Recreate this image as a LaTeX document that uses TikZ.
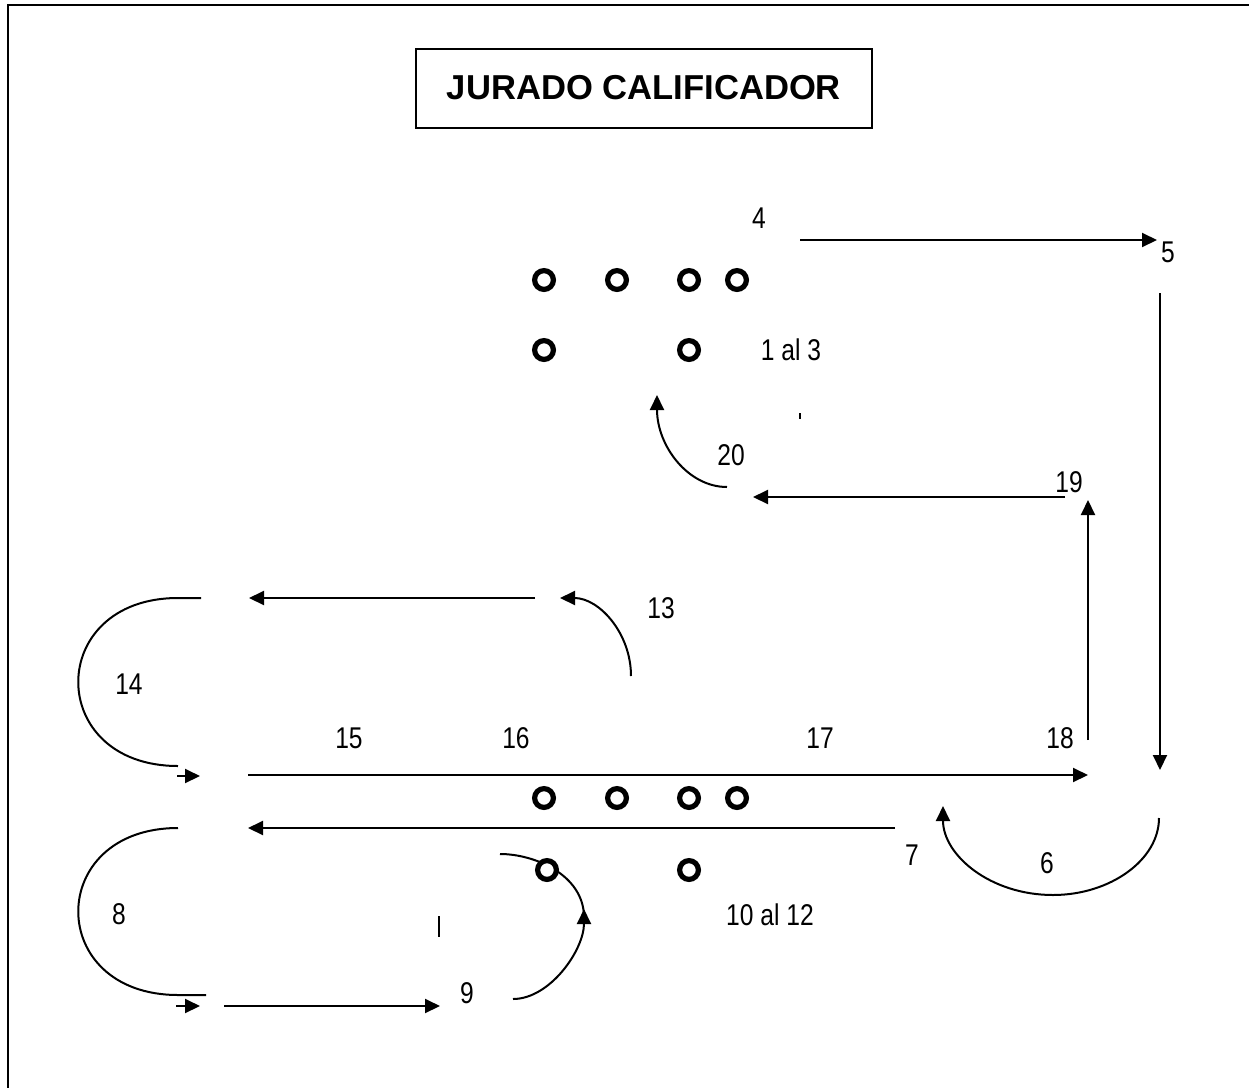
\documentclass[tikz,border=0pt]{standalone}
\usepackage{fontspec}
\setmainfont{Liberation Sans}
\newfontfamily\narrowfont[FakeStretch=0.82]{Liberation Sans}
\usetikzlibrary{arrows.meta}
\begin{document}
\begin{tikzpicture}[x=0.5pt,y=-0.5pt,
  lab/.style={font=\narrowfont\fontsize{15}{18}\selectfont, inner sep=0},
  dot/.style={circle,draw,line width=2.6pt,fill=white,minimum size=9.4pt,inner sep=0},
  arr/.style={line width=1pt,-{Triangle[length=7.5pt,width=7pt]}},
  ln/.style={line width=1pt},
  thin ln/.style={line width=0.6pt}]
\useasboundingbox (0,0) rectangle (1249,1088);
% frame
\draw[line width=1.2pt] (8,1088) -- (8,5) -- (1249,5);
% title
\node[draw, line width=1pt, minimum width=228pt, minimum height=39.5pt, inner sep=0,
      font=\bfseries\fontsize{17.3}{20}\selectfont] (title) at (644,88) {JURADO CALIFICADOR};
% endpoints
\coordinate (a4s) at (800,240);  \coordinate (a4e) at (1157,240);
\coordinate (a5s) at (1160,293); \coordinate (a5e) at (1160,770);
\coordinate (a6s) at (1159,818); \coordinate (a6e) at (943,806);
\coordinate (a7s) at (895,828);  \coordinate (a7e) at (248,828);
\coordinate (a8s) at (178,828);  \coordinate (a8b) at (178,995); \coordinate (a8e) at (206,995);
\coordinate (a8as) at (176,1006); \coordinate (a8ae) at (200,1006);
\coordinate (a9ls) at (224,1006); \coordinate (a9le) at (440,1006);
\coordinate (a9s) at (513,999);  \coordinate (a9e) at (584,909);
\coordinate (a9u) at (584,916);  \coordinate (a9t) at (500,854);
\coordinate (t1s) at (439,916);  \coordinate (t1e) at (439,937);
\coordinate (a13s) at (631,676); \coordinate (a13e) at (560,598);
\coordinate (l13s) at (535,598); \coordinate (l13e) at (249,598);
\coordinate (a14s) at (201,598); \coordinate (a14t) at (178,598); \coordinate (a14e) at (178,766);
\coordinate (a14as) at (177,776); \coordinate (a14ae) at (200,776);
\coordinate (l15s) at (248,775); \coordinate (l15e) at (1088,775);
\coordinate (a18s) at (1088,740); \coordinate (a18e) at (1088,500);
\coordinate (a19s) at (1065,497); \coordinate (a19e) at (753,497);
\coordinate (a20s) at (727,487); \coordinate (a20e) at (657,395);
\coordinate (d1s) at (800,413);  \coordinate (d1e) at (800,419);
% connectors
\draw[arr] (a4s) -- (a4e);
\draw[arr] (a5s) -- (a5e);
\draw[arr] (a6s) .. controls (1159,860) and (1110,895) .. (1053,895)
                 .. controls (990,895) and (943,855) .. (a6e);
\draw[arr] (a7s) -- (a7e);
\draw[ln] (a8s) .. controls (45,828) and (45,995) .. (a8b) -- (a8e);
\draw[arr] (a8as) -- (a8ae);
\draw[arr] (a9ls) -- (a9le);
\draw[arr] (a9s) .. controls (550,999) and (584,950) .. (a9e);
\draw[ln] (a9u) .. controls (583,875) and (535,854) .. (a9t);
\draw[thin ln] (t1s) -- (t1e);
\draw[arr] (a13s) .. controls (631,633) and (599,598) .. (a13e);
\draw[arr] (l13s) -- (l13e);
\draw[ln] (a14s) -- (a14t) .. controls (45,598) and (45,766) .. (a14e);
\draw[arr] (a14as) -- (a14ae);
\draw[arr] (l15s) -- (l15e);
\draw[arr] (a18s) -- (a18e);
\draw[arr] (a19s) -- (a19e);
\draw[arr] (a20s) .. controls (688,487) and (657,446) .. (a20e);
\draw[ln] (d1s) -- (d1e);
% players (circles)
\node[dot] (c1) at (544,280) {};
\node[dot] (c2) at (617,280) {};
\node[dot] (c3) at (689,280) {};
\node[dot] (c4) at (737,280) {};
\node[dot] (c5) at (544,350) {};
\node[dot] (c6) at (689,350) {};
\node[dot] (c7) at (544,798) {};
\node[dot] (c8) at (617,798) {};
\node[dot] (c9) at (689,798) {};
\node[dot] (c10) at (737,798) {};
\node[dot] (c11) at (547,870) {};
\node[dot] (c12) at (689,870) {};
% labels
\node[lab] (n4) at (759,218) {4};
\node[lab] (n5) at (1168,252) {5};
\node[lab] (n13a) at (791,350) {1 al 3};
\node[lab] (n20) at (731,455) {20};
\node[lab] (n19) at (1069,482) {19};
\node[lab] (n13) at (661,608) {13};
\node[lab] (n14) at (129,684) {14};
\node[lab] (n15) at (349,738) {15};
\node[lab] (n16) at (516,738) {16};
\node[lab] (n17) at (820,738) {17};
\node[lab] (n18) at (1060,738) {18};
\node[lab] (n7) at (912,855) {7};
\node[lab] (n6) at (1047,863) {6};
\node[lab] (n8) at (119,914) {8};
\node[lab] (n1012) at (770,915) {10 al 12};
\node[lab] (n9) at (467,993) {9};
\end{tikzpicture}
\end{document}
